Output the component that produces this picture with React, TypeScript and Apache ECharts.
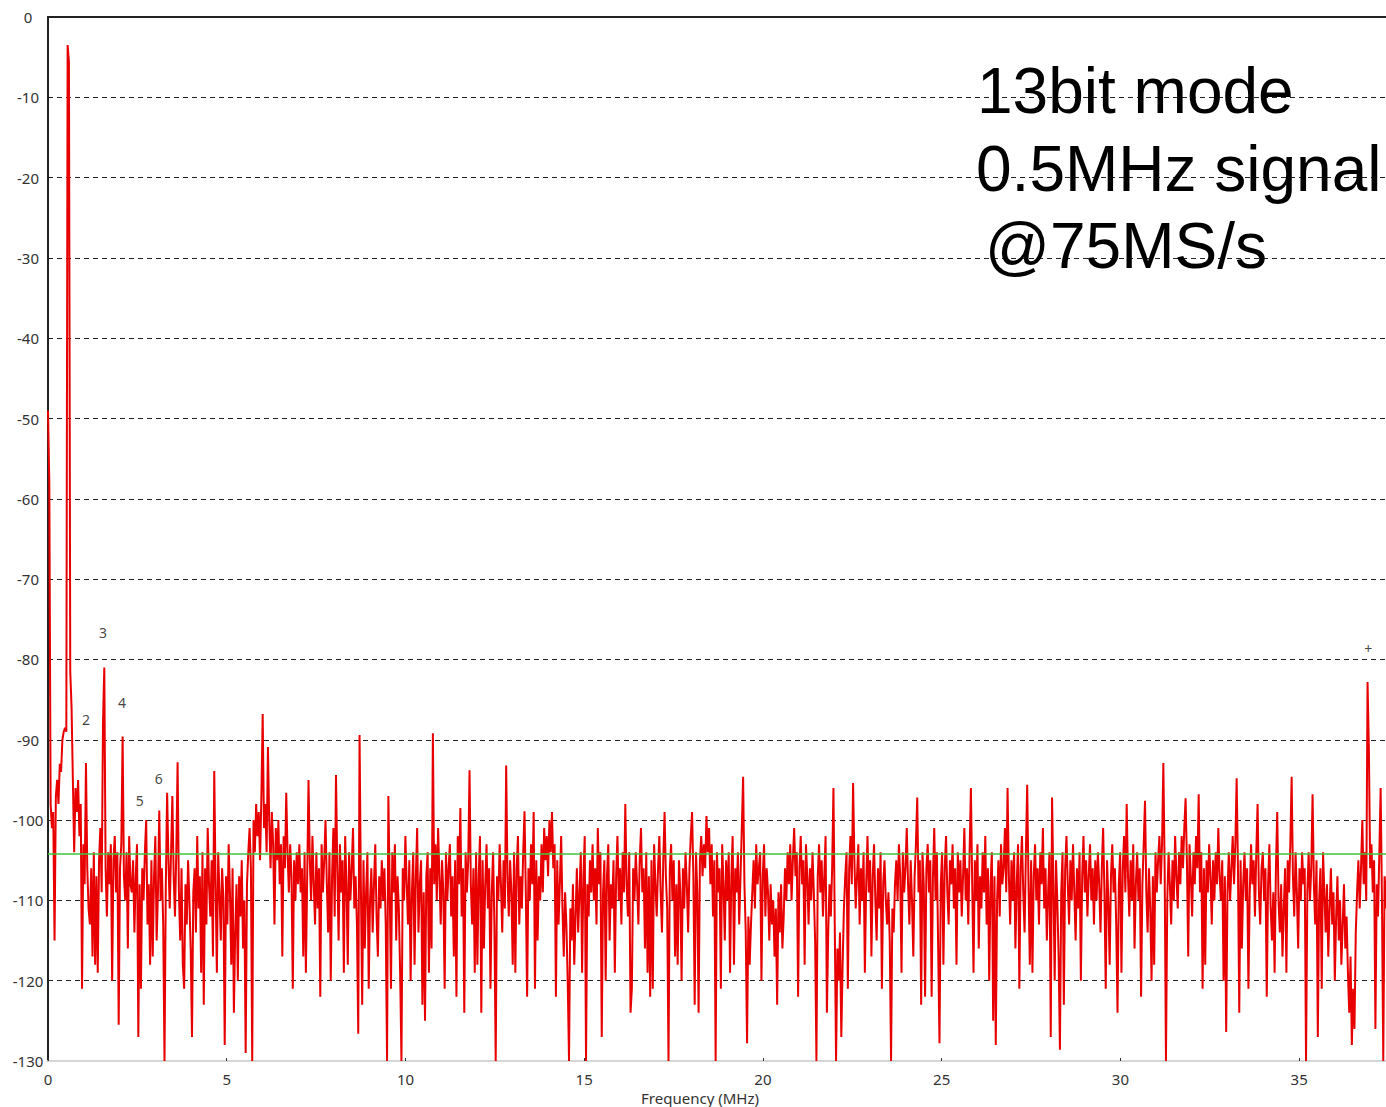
import React, { useEffect, useRef } from "react";
import * as echarts from "echarts";

// FFT bin spacing: 75 MS/s, 2048-point FFT -> 1024 bins up to 37.5 MHz
const sampleRateMHz = 75;
const fftSize = 2048;

// Spectrum magnitude (dBFS) per FFT bin
const spectrumDb: number[] = [
  -49,-58,-98,-101,-99,-115,-97,-95,-98,-93,-94,-90,-89,-88.5,-89,-3.5,-5.6,-81.5,-86,-95,-104,-96,-99,-95,-102,-98,-121,-103,-108,-92.9,-106,-111,
  -113,-106,-117,-104,-118,-107,-119,-105,-101,-109,-88,-81,-106,-112,-104,-108,-103,-120,-105,-102,-109,-104,-125.5,-106,-103,-89.6,-107,-110,-104,-116,-102,-108,
  -109,-105,-114,-107,-103,-127,-108,-121,-106,-110,-104,-100,-113,-108,-118,-105,-117,-107,-102,-115,-109,-98.8,-110,-106,-113,-130,-108,-96.6,-105,-111,-104,-97,
  -107,-112,-104,-92.8,-109,-115,-106,-118,-121,-108,-113,-105,-110,-116,-127,-109,-106,-114,-102,-111,-107,-119,-104,-123,-106,-113,-101,-108,-112,-105,-117,-93.9,
  -108,-119,-104,-109,-115,-106,-110,-128,-107,-113,-103,-109,-118,-106,-124,-114,-108,-120,-107,-112,-105,-116,-110,-129,-108,-104,-101,-106,-130,-100,-104,-98,
  -102,-99,-105,-97,-86.8,-101,-98,-104,-90.9,-100,-106,-99,-103,-113,-101,-105,-100,-108,-103,-117,-102,-106,-96.6,-104,-109,-103,-107,-121,-105,-110,-104,-108,
  -103,-109,-106,-117,-104,-119,-107,-95,-105,-110,-102,-108,-113,-104,-111,-106,-122,-103,-109,-105,-100,-108,-114,-104,-120,-107,-101,-112,-94.4,-106,-115,-103,
  -109,-105,-119,-102,-108,-118,-104,-110,-106,-101,-111,-107,-113,-126.6,-89.4,-108,-123,-105,-116,-109,-104,-121,-110,-106,-114,-108,-103,-112,-117,-107,-111,-105,
  -110,-106,-113,-130,-97,-108,-121,-104,-109,-103,-115,-107,-111,-119,-130,-106,-110,-102,-108,-113,-105,-120,-109,-104,-118,-107,-101,-114,-108,-105,-123,-109,
  -125,-107,-104,-119,-106,-116,-89.2,-108,-103,-110,-101,-107,-113,-105,-109,-121,-104,-110,-106,-103,-112,-107,-117,-105,-122,-102,-108,-98.5,-112,-106,-124,-104,
  -109,-105,-93.8,-108,-113,-106,-119,-104,-118,-107,-102,-124,-105,-116,-108,-103,-111,-106,-121,-109,-104,-113,-130,-107,-110,-103,-108,-114,-105,-111,-93.2,-107,
  -112,-105,-109,-118,-104,-119,-106,-102,-113,-107,-111,-104,-98.9,-109,-122,-106,-110,-103,-108,-99,-121,-105,-115,-107,-110,-103,-109,-101,-105,-102,-107,-100,
  -104,-99,-106,-103,-122,-105,-113,-108,-102,-111,-117,-109,-113,-120,-130,-111,-115,-108,-118,-112,-106,-114,-109,-104,-119,-107,-102,-130,-108,-112,-105,-109,
  -103,-110,-106,-113,-101,-108,-104,-127,-109,-105,-120,-107,-103,-115,-108,-111,-105,-119,-107,-102,-110,-106,-113,-104,-109,-98,-108,-112,-104,-124,-121,-106,
  -110,-104,-108,-113,-105,-101,-109,-106,-116,-104,-119,-107,-122,-105,-121,-103,-108,-112,-106,-102,-109,-114,-105,-99,-107,-111,-130,-106,-103,-110,-105,-117,
  -108,-118,-105,-109,-120,-106,-111,-104,-108,-114,-106,-102,-99,-107,-123,-104,-109,-124,-105,-102,-107,-103,-106,-99.5,-104,-101,-108,-103,-112,-105,-130,-104,
  -109,-106,-121,-103,-108,-115,-105,-110,-104,-119,-107,-102,-118,-106,-109,-104,-113,-107,-101,-94.6,-108,-114,-127.8,-112,-118,-113,-109,-105,-111,-103,-108,-106,
  -104,-120,-107,-103,-112,-106,-109,-115,-108,-113,-110,-117,-111,-123,-109,-114,-108,-116,-112,-106,-110,-104,-108,-103,-110,-105,-101,-107,-104,-122,-106,-102,
  -108,-105,-118,-103,-107,-113,-106,-110,-104,-109,-115,-130,-107,-103,-109,-105,-112,-107,-102,-124,-114,-108,-112,-106,-96,-113,-130,-116,-120,-114,-127,-118,
  -111,-107,-104,-121,-106,-102,-108,-95.4,-105,-111,-107,-103,-113,-106,-110,-104,-119,-108,-102,-109,-105,-117,-107,-103,-110,-115,-106,-111,-104,-121,-108,-105,
  -110,-113,-109,-115,-130,-111,-114,-108,-105,-110,-103,-107,-119,-104,-109,-106,-101,-108,-113,-105,-110,-117,-107,-103,-97.2,-109,-105,-123,-104,-108,-122,-106,
  -103,-109,-105,-122,-107,-101,-110,-104,-116,-127.8,-108,-104,-118,-106,-102,-109,-113,-105,-108,-103,-111,-106,-118,-104,-109,-105,-112,-107,-101,-110,-106,-113,
  -104,-96,-108,-119,-105,-110,-103,-116,-107,-111,-104,-109,-102,-113,-106,-120,-108,-104,-125,-107,-128,-110,-105,-112,-103,-108,-106,-101,-109,-96,-107,-113,
  -105,-110,-104,-116,-108,-103,-121,-106,-102,-109,-114,-104,-95.6,-108,-118,-105,-119,-107,-103,-110,-106,-113,-104,-108,-101,-111,-106,-115,-109,-104,-127,-97.2,
  -108,-120,-105,-110,-117,-128.6,-109,-104,-123,-106,-102,-108,-113,-105,-110,-103,-109,-115,-106,-111,-104,-120,-107,-102,-109,-105,-112,-107,-103,-110,-106,-113,
  -105,-110,-104,-108,-114,-106,-101,-109,-121,-105,-110,-118,-107,-103,-109,-106,-113,-124,-108,-104,-119,-106,-102,-109,-98,-107,-112,-105,-110,-103,-116,-108,
  -104,-110,-106,-122,-108,-103,-97.6,-109,-114,-106,-111,-120,-107,-118,-104,-109,-105,-102,-108,-103,-92.9,-106,-130,-110,-104,-108,-113,-105,-110,-102,-107,-111,
  -104,-108,-102,-106,-101,-97.3,-105,-117,-103,-107,-112,-104,-108,-102,-106,-96.8,-109,-104,-121,-106,-118,-105,-109,-103,-107,-113,-105,-110,-104,-108,-101,-107,
  -110,-105,-120,-107,-126.4,-109,-104,-110,-106,-102,-108,-103,-94.8,-106,-124,-105,-116,-108,-104,-110,-106,-121,-109,-103,-108,-105,-112,-104,-98,-109,-113,-106,
  -104,-110,-106,-122,-108,-103,-111,-115,-109,-119,-106,-99,-110,-114,-108,-117,-111,-106,-119,-105,-109,-103,-94.6,-107,-112,-104,-109,-116,-106,-110,-104,-108,
  -106,-130,-109,-104,-110,-106,-96.8,-108,-113,-105,-127,-110,-106,-121,-104,-109,-114,-108,-117,-111,-106,-113,-109,-120,-112,-107,-115,-110,-118,-113,-108,-116,
  -112,-119,-124,-117,-128,-121,-126,-114,-109,-105,-111,-106,-100,-108,-104,-110,-82.8,-91,-106,-103,-109,-105,-126,-108,-112,-104,-96,-110,-130,-107,-111,-106,
];

// Average noise floor (green line), dB
const noiseFloorDb = -104.2;

// Visible frequency range of the plot (MHz)
const freqMax = 37.43;

// Harmonic markers (text, frequency MHz, level dB)
const harmonicNames = ["2", "3", "4", "5", "6", "+"];
const harmonicFreq = [1.06, 1.54, 2.07, 2.57, 3.1, 36.93];
const harmonicLevel = [-87.5, -76.6, -85.3, -97.5, -94.8, -78.6];

// Annotation lines
const noteLines = ["13bit mode", "0.5MHz signal", "@75MS/s"];

const xTitle = "Frequency (MHz)";

export default function App() {
  const ref = useRef<HTMLDivElement>(null);

  useEffect(() => {
    document.body.style.margin = "0";
    document.body.style.overflow = "hidden";
    if (!ref.current) return;
    const chart = echarts.init(ref.current, undefined, { renderer: "svg" });

    const binWidth = sampleRateMHz / fftSize;
    const lineData = spectrumDb.map((v, k) => [k * binWidth, v]);
    const labelData = harmonicNames.map((n, i) => [harmonicFreq[i], harmonicLevel[i], n]);

    const notePos = [
      { x: 977, y: 91 },
      { x: 976, y: 169 },
      { x: 985, y: 246 },
    ];

    chart.setOption({
      animation: false,
      grid: { left: 48, top: 17, right: 0, bottom: 46 },
      xAxis: [
        {
          type: "value",
          min: 0,
          max: freqMax,
          interval: 5,
          axisLine: { show: true, onZero: false, lineStyle: { color: "#d6d6d6", width: 2 } },
          axisTick: { show: true, inside: true, length: 3, lineStyle: { color: "#333" } },
          axisLabel: {
            showMaxLabel: false,
            margin: 10,
            color: "#333",
            fontSize: 15,
            fontFamily: "Noto Sans",
          },
          splitLine: { show: false },
        },
        {
          type: "value",
          position: "top",
          min: 0,
          max: freqMax,
          axisLine: { show: true, onZero: false, lineStyle: { color: "#222", width: 2 } },
          axisTick: { show: false },
          axisLabel: { show: false },
          splitLine: { show: false },
        },
      ],
      yAxis: {
        type: "value",
        min: -130,
        max: 0,
        interval: 10,
        axisLine: { show: true, onZero: false, lineStyle: { color: "#222", width: 2 } },
        axisTick: { show: false },
        axisLabel: {
          align: "center",
          margin: 20,
          color: "#333",
          fontSize: 15,
          fontFamily: "Noto Sans",
        },
        splitLine: { show: true, lineStyle: { color: "#222", width: 1, type: [5, 4] } },
      },
      series: [
        {
          type: "line",
          data: lineData,
          showSymbol: false,
          symbol: "none",
          clip: true,
          lineStyle: { color: "#e80000", width: 2 },
          emphasis: { disabled: true },
          markLine: {
            silent: true,
            symbol: ["none", "none"],
            label: { show: false },
            lineStyle: { color: "#3ec43e", width: 1.5, type: "solid" },
            data: [{ yAxis: noiseFloorDb }],
          },
          z: 3,
        },
        {
          type: "scatter",
          data: labelData,
          symbolSize: 1,
          itemStyle: { color: "rgba(0,0,0,0)" },
          label: {
            show: true,
            position: "inside",
            formatter: (p: any) => p.data[2],
            color: "#111",
            fontSize: 14,
            fontFamily: "Noto Sans",
          },
          silent: true,
          z: 5,
        },
      ],
      graphic: [
        ...noteLines.map((t, i) => ({
          type: "text",
          x: notePos[i].x,
          y: notePos[i].y,
          z: 100,
          style: {
            text: t,
            fill: "#000",
            font: '64px "Liberation Sans", Arial, sans-serif',
            align: "left",
            verticalAlign: "middle",
          },
        })),
        {
          type: "text",
          x: 700,
          y: 1098,
          z: 100,
          style: {
            text: xTitle,
            fill: "#333",
            font: '15px "Noto Sans", sans-serif',
            align: "center",
            verticalAlign: "middle",
          },
        },
      ],
    });

    return () => chart.dispose();
  }, []);

  return (
    <div
      ref={ref}
      style={{ position: "absolute", left: 0, top: 0, width: 1386, height: 1107 }}
    />
  );
}
